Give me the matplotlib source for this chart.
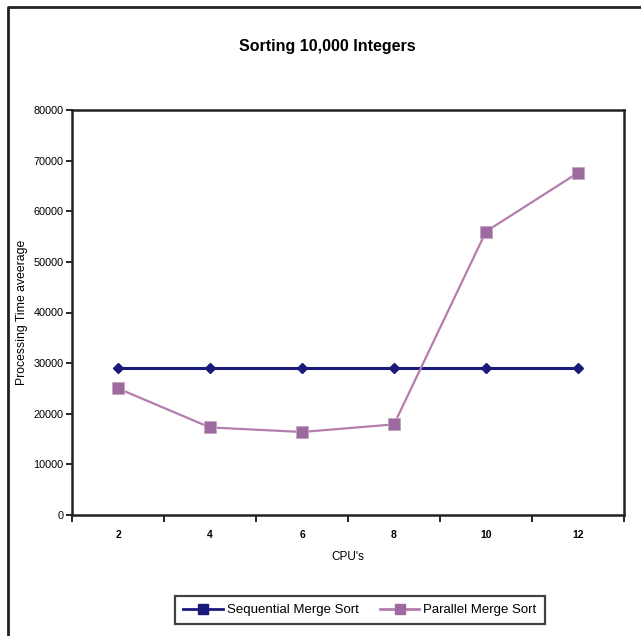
import matplotlib
matplotlib.use("Agg")
import matplotlib.pyplot as plt
from matplotlib.lines import Line2D
import numpy as np

plt.rcParams["font.family"] = ["Liberation Sans", "DejaVu Sans"]

cpus = ["2", "4", "6", "8", "10", "12"]
sequential = [29000, 29000, 29000, 29000, 29000, 29000]
parallel = [25000, 17300, 16400, 17900, 56000, 67600]
y_ticks = [0, 10000, 20000, 30000, 40000, 50000, 60000, 70000, 80000]

W, H = 641, 636
fig = plt.figure(figsize=(W / 100, H / 100), dpi=100)

# plot area in pixel coords
left, top, right, bottom = 72, 110, 624, 515
ax = fig.add_axes([left / W, 1 - bottom / H, (right - left) / W, (bottom - top) / H])

navy = "#1a1a7a"
mauve_line = "#b57dab"
mauve_mark = "#9c6a9e"

x = np.arange(len(cpus))
ax.plot(x, sequential, color=navy, lw=2.2, marker="D", ms=5.5,
        mfc=navy, mec=navy, zorder=3)
ax.plot(x, parallel, color=mauve_line, lw=1.6, marker="s", ms=8,
        mfc=mauve_mark, mec="#c9a3c4", mew=0.6, zorder=3)

ax.set_xlim(-0.5, len(cpus) - 0.5)
ax.set_ylim(0, 80000)
ax.set_yticks(y_ticks)
ax.set_yticklabels([str(v) for v in y_ticks], fontsize=7.8)
ax.set_xticks(x)
ax.set_xticklabels(cpus, fontsize=7.5, fontweight="bold")
ax.set_xticks(np.arange(len(cpus) + 1) - 0.5, minor=True)
ax.tick_params(axis="x", which="major", length=0, pad=11)
ax.tick_params(axis="x", which="minor", length=5, width=1.2, direction="out")
ax.tick_params(axis="y", length=4, width=1.2, direction="out", pad=2)
for s in ax.spines.values():
    s.set_linewidth(1.8)
    s.set_color("#222222")

ax.set_xlabel("CPU's", fontsize=8.5, labelpad=8)
ax.set_ylabel("Processing Time aveerage", fontsize=8.8, labelpad=4)

fig.text(327 / W, 1 - 47 / H, "Sorting 10,000 Integers", ha="center", va="center",
         fontsize=11.5, fontweight="bold")

# outer chart frame (only left and top visible)
fig.add_artist(Line2D([8 / W, 8 / W, 1.0], [0.0, 1 - 7 / H, 1 - 7 / H],
                      transform=fig.transFigure, color="#222222", lw=2))

handles = [
    Line2D([], [], color=navy, lw=2, marker="s", ms=7, mfc=navy, mec=navy),
    Line2D([], [], color=mauve_line, lw=2, marker="s", ms=7, mfc=mauve_mark, mec=mauve_mark),
]
leg = fig.legend(handles, ["Sequential Merge Sort", "Parallel Merge Sort"],
                 loc="center", bbox_to_anchor=(360 / W, 1 - 610 / H), ncol=2,
                 fontsize=9.5, frameon=True, fancybox=False, handlelength=3.0,
                 handletextpad=0.3, columnspacing=1.6, borderpad=0.6,
                 borderaxespad=0)
leg.get_frame().set_edgecolor("#111111")
leg.get_frame().set_linewidth(1.6)

fig.savefig("out.png", dpi=100)
